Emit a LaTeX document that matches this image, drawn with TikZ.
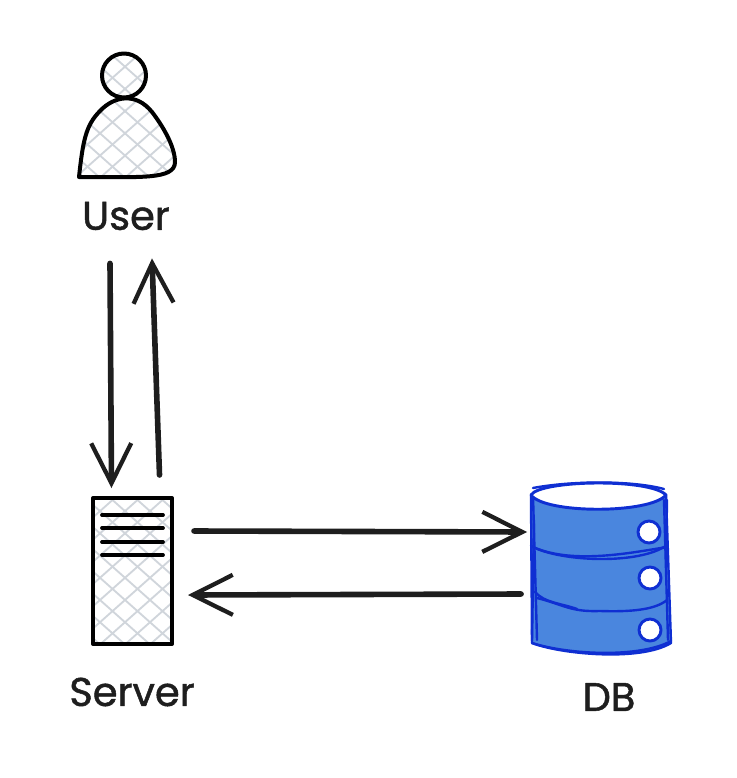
\documentclass[tikz,border=0pt]{standalone}
\usepackage{fontspec}
\setmainfont{Poppins}[FakeBold=1.2]
\usetikzlibrary{arrows.meta, positioning}
\definecolor{cink}{HTML}{1E1E1E}
\definecolor{chatch}{HTML}{D0D5DB}
\definecolor{cdbfill}{HTML}{4A86DE}
\definecolor{cdbline}{HTML}{0F2FD2}
\tikzset{
  every picture/.style={x=0.75pt, y=-0.75pt, line cap=round, line join=round},
  outline/.style={draw=black, line width=3pt},
  hatch/.style={draw=chatch, line width=1.4pt},
  arrow/.style={-{Straight Barb[length=30pt, width=30pt, line width=3.2pt]}, draw=cink, line width=4.2pt},
  label/.style={font=\fontsize{30}{32}\selectfont, text=cink, inner sep=0pt},
  rack/.style={draw=black, line width=2.8pt},
  dbline/.style={draw=cdbline, line width=1.8pt},
  hole/.style={circle, fill=white, draw=cdbline, line width=2.2pt, minimum size=16.5pt, inner sep=0pt},
}
\newcommand{\hatchlines}{
  \foreach \k in {-1000,-975,...,1000} {
    \draw[hatch] (\k,0) -- (\k+900,800);
    \draw[hatch] (\k+900,0) -- (\k,800);
  }
}
\newcommand{\bodypath}{(79,177) .. controls (83,140) and (86,125) .. (100,111) .. controls (114,96) and (136,92) .. (152,112) .. controls (162,125) and (175,146) .. (175,162) .. controls (175,180) and (140,177) .. (79,177)}
\begin{document}
\begin{tikzpicture}
  \useasboundingbox (0,0) rectangle (736,778);
  \begin{scope}
    \clip (124,75) circle[radius=22];
    \hatchlines
  \end{scope}
  \begin{scope}
    \clip \bodypath;
    \hatchlines
  \end{scope}
  \node[circle, outline, minimum size=33pt, inner sep=0pt] (head) at (124,75.5) {};
  \draw[outline] \bodypath;
  \node[label] (userlabel) at (126,216) {User};

  \begin{scope}
    \clip (93,498) rectangle (172,644);
    \hatchlines
  \end{scope}
  \node[outline, minimum width=59.25pt, minimum height=109.5pt, inner sep=0pt] (server) at (132.5,571) {};
  \foreach \y in {515,528,542,555} \draw[rack] (102,\y) -- (163,\y);
  \node[label] (serverlabel) at (132,692) {Server};

  \draw[fill=cdbfill, dbline] (531,495) -- (532,643) .. controls (560,654) and (640,662) .. (671,643) -- (666,495) -- cycle;
  \node[minimum width=100pt, minimum height=120pt, inner sep=0pt] (db) at (600,570) {};
  \draw[dbline] (533,495) -- (537,640);
  \draw[dbline] (534,520) -- (532,641);
  \draw[dbline] (664,500) -- (668,640);
  \draw[dbline] (667,500) -- (666,560);
  \draw[dbline] (532,643) .. controls (570,655) and (640,658) .. (671,641);
  \draw[fill=white, dbline, line width=2.2pt] (531,495) .. controls (540,480) and (650,478) .. (666,495) .. controls (650,514) and (545,514) .. (531,495);
  \draw[dbline] (533,488) .. controls (570,481) and (630,480) .. (664,489);
  \draw[dbline] (531,546) .. controls (560,562) and (640,565) .. (667,545);
  \draw[dbline] (531,546) .. controls (570,565) and (630,553) .. (667,547);
  \draw[dbline] (537,598) .. controls (565,605) and (570,612) .. (600,611) .. controls (630,612) and (655,610) .. (667,600);
  \draw[dbline] (535,592) .. controls (545,603) and (560,603) .. (577,609);
  \foreach \n/\x/\y in {a/649/532, b/650/578, c/650/630} \node[hole] (hole\n) at (\x,\y) {};
  \node[label] (dblabel) at (609,697) {DB};

  \draw[arrow] ([shift={(-16,33)}]userlabel.south) -- ([shift={(-21,-8)}]server.north);
  \draw[arrow] ([shift={(27,-21)}]server.north) -- ([shift={(26,28)}]userlabel.south);
  \draw[arrow] ([shift={(20,-40)}]server.east) -- ([shift={(-6,-38)}]db.west);
  \draw[arrow] ([shift={(-12,24)}]db.west) -- ([shift={(14,24)}]server.east);
\end{tikzpicture}
\end{document}
